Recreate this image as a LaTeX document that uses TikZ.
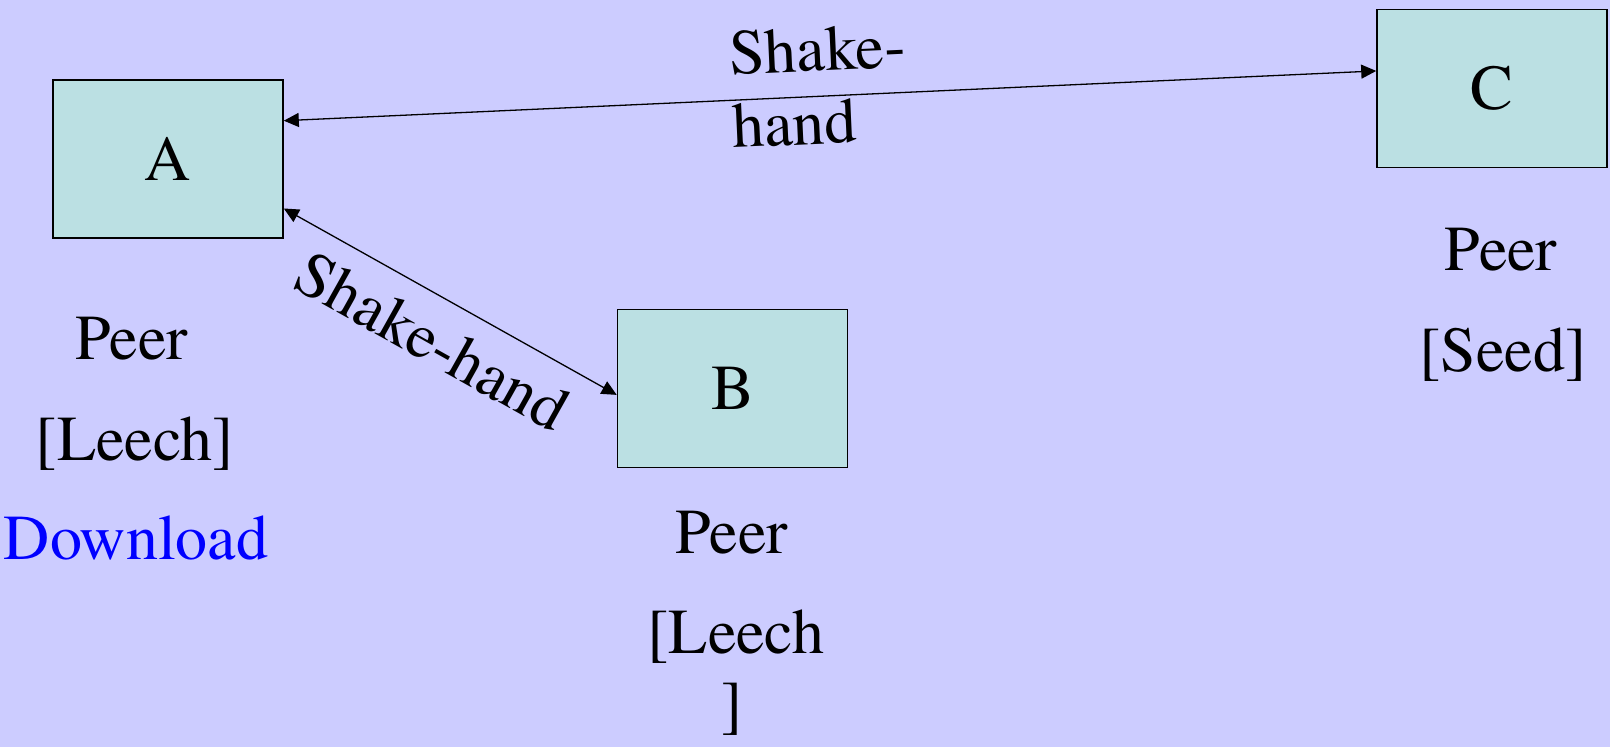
\documentclass[tikz,border=0pt]{standalone}
\usepackage{fontspec}
\setmainfont{TeX Gyre Termes}
\usetikzlibrary{arrows.meta,calc}
\definecolor{slidebg}{RGB}{204,204,255}
\definecolor{peerfill}{RGB}{187,224,227}
\definecolor{linkblue}{RGB}{0,0,255}
\tikzset{
  bigtext/.style={font=\rmfamily\fontsize{64bp}{73bp}\selectfont},
  peerbox/.style={bigtext, draw=black, line width=1.6bp, fill=peerfill, inner sep=0pt,
    minimum width=230bp, minimum height=158bp},
  caption/.style={bigtext, inner sep=0pt, anchor=base},
  link/.style={line width=1.3bp, {Triangle[length=15bp,width=14bp]}-{Triangle[length=15bp,width=14bp]}},
  linklabel/.style={bigtext, inner sep=0pt}
}
\begin{document}
\begin{tikzpicture}[x=1bp, y=-1bp]
  % page and background
  \fill[slidebg] (0,0) rectangle (1610,747);
  \useasboundingbox (0,0) rectangle (1610,747);

  % peers
  \node[peerbox] (A) at (168,159) {A};
  \node[peerbox] (B) at (732.5,388.5) {B};
  \node[peerbox] (C) at (1492,88.5) {C};

  % role captions
  \node[caption] (Apeer) at (132,359) {Peer};
  \node[caption] (Arole) at (135,460) {[Leech]};
  \node[caption, text=linkblue] (Adl) at (136,559) {Download};

  \node[caption] (Bpeer) at (732,553) {Peer};
  \node[caption] (Brole) at (736,653) {[Leech};
  \node[caption] (Brole2) at (732,725) {]};

  \node[caption] (Cpeer) at (1501,270) {Peer};
  \node[caption] (Crole) at (1503,371) {[Seed]};

  % handshakes
  \draw[link] ($(A.north east)!0.26!(A.south east)$) -- ($(C.north west)!0.39!(C.south west)$);
  \node[linklabel, align=left, rotate=2.6, anchor=north west] (ACl) at (728,31) {Shake-\\hand};

  \draw[link] ($(A.north east)!0.81!(A.south east)$) --
    node[linklabel, sloped, below=20bp, pos=0.51] (ABl) {Shake-hand}
    ($(B.north west)!0.54!(B.south west)$);
\end{tikzpicture}
\end{document}
